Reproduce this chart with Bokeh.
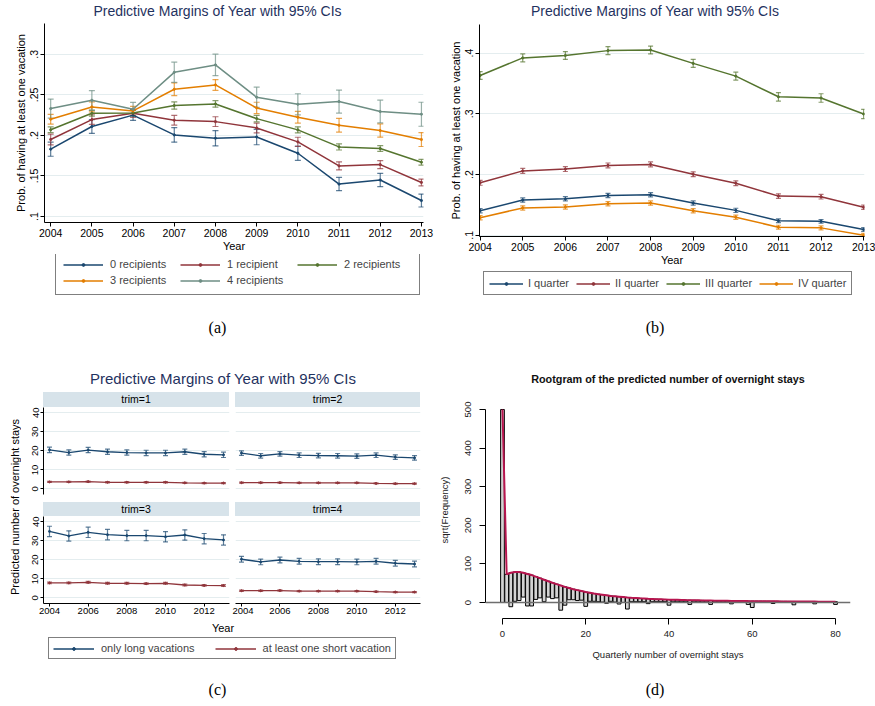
from bokeh.plotting import figure
from bokeh.models import (Range1d, FixedTicker, Legend, LegendItem, Whisker, TeeHead,
                          ColumnDataSource, Div, Spacer, Span)
from bokeh.layouts import column, row
from bokeh.embed import file_html
from bokeh.resources import INLINE

# ---------------- data ----------------
years = [2004, 2005, 2006, 2007, 2008, 2009, 2010, 2011, 2012, 2013]

# (a) probability by number of recipients
a_labels = ["0 recipients", "1 recipient", "2 recipients", "3 recipients", "4 recipients"]
a_rec0 = [.183, .211, .225, .2006, .1965, .198, .178, .140, .145, .1197]
a_rec0_ci = [.0087, .0085, .0065, .009, .0095, .0095, .0087, .0082, .0082, .008]
a_rec1 = [.195, .2195, .2273, .2187, .217, .2092, .192, .1624, .164, .142]
a_rec1_ci = [.0066, .006, .005, .006, .006, .006, .0057, .005, .005, .0042]
a_rec2 = [.207, .2273, .2277, .2368, .2388, .2207, .2068, .1858, .1838, .1669]
a_rec2_ci = [.0035, .0035, .0035, .0045, .004, .004, .0038, .0038, .0035, .0035]
a_rec3 = [.22, .2351, .2302, .2569, .2622, .2339, .2224, .2125, .206, .1949]
a_rec3_ci = [.006, .0062, .0055, .0078, .0066, .007, .0072, .0084, .0082, .0086]
a_rec4 = [.2331, .2433, .2322, .2778, .2869, .247, .2384, .2417, .2294, .2261]
a_rec4_ci = [.0117, .012, .0085, .0125, .0133, .0125, .013, .0142, .014, .0148]
a_yticks = [0.1, 0.15, 0.2, 0.25, 0.3]
a_yticklabels = [".1", ".15", ".2", ".25", ".3"]

# (b) probability by quarter
b_labels = ["I quarter", "II quarter", "III quarter", "IV quarter"]
b_q1 = [.1405, .158, .160, .1656, .1667, .153, .141, .124, .123, .1095]
b_q1_ci = [.0035, .0035, .0035, .0035, .0035, .0035, .0035, .003, .003, .003]
b_q2 = [.1864, .206, .209, .215, .2167, .2005, .1857, .1645, .1635, .146]
b_q2_ci = [.004, .004, .004, .004, .004, .004, .004, .0038, .0038, .0035]
b_q3 = [.363, .392, .396, .404, .405, .383, .362, .328, .326, .2997]
b_q3_ci = [.0065, .0065, .0065, .0065, .0065, .0065, .0065, .007, .007, .0075]
b_q4 = [.129, .145, .1466, .152, .153, .1405, .1297, .1133, .1122, .100]
b_q4_ci = [.0035, .0035, .0035, .0035, .0035, .0035, .0035, .0032, .0032, .003]
b_yticks = [0.1, 0.2, 0.3, 0.4]
b_yticklabels = [".1", ".2", ".3", ".4"]

# (c) predicted overnight stays by quarter (trim)
c_labels = ["only long vacations", "at least one short vacation"]
c_long_trim1 = [20.5, 19.1, 20.4, 19.5, 19.1, 18.9, 18.9, 19.5, 18.2, 17.9]
c_long_trim2 = [18.8, 17.4, 18.4, 17.7, 17.5, 17.4, 17.2, 17.7, 16.7, 16.3]
c_long_trim3 = [34.9, 32.5, 34.4, 33.2, 32.7, 32.7, 32.1, 33.0, 31.1, 30.4]
c_long_trim4 = [20.3, 18.9, 19.9, 19.2, 19.0, 19.0, 18.9, 19.2, 18.2, 17.8]
c_long_ci = {1: 1.4, 2: 1.2, 3: 2.7, 4: 1.5}
c_short_trim1 = [3.7, 3.7, 3.85, 3.5, 3.5, 3.5, 3.5, 3.2, 3.1, 3.1]
c_short_trim2 = [3.3, 3.3, 3.3, 3.2, 3.2, 3.2, 3.2, 2.9, 2.8, 2.8]
c_short_trim3 = [7.9, 7.9, 8.2, 7.7, 7.7, 7.5, 7.7, 6.8, 6.6, 6.5]
c_short_trim4 = [3.8, 3.8, 3.9, 3.6, 3.6, 3.6, 3.6, 3.3, 3.1, 3.1]
c_short_ci = {1: 0.3, 2: 0.3, 3: 0.45, 4: 0.3}
c_yticks = [0, 10, 20, 30, 40]
c_xticks = [2004, 2006, 2008, 2010, 2012]

# (d) hanging rootogram
d_counts = list(range(0, 81))
d_sqrt_expected = [500, 73, 77, 79, 79, 77, 74, 71, 67, 63, 59, 55, 51, 47.5, 44, 40.5, 37.5,
                   34.5, 32, 29.5, 27, 25, 23, 21.5, 20, 18.5, 17, 16, 15, 14, 13, 12.2, 11.5,
                   10.8, 10.2, 9.6, 9.1, 8.6, 8.2, 7.8, 7.4, 7.1, 6.8, 6.5, 6.2, 6.0, 5.7, 5.5,
                   5.3, 5.1, 4.9, 4.7, 4.6, 4.4, 4.3, 4.1, 4.0, 3.9, 3.8, 3.6, 3.5, 3.4, 3.3,
                   3.2, 3.1, 3.0, 2.9, 2.8, 2.8, 2.7, 2.6, 2.5, 2.5, 2.4, 2.3, 2.3, 2.2, 2.1,
                   2.1, 2.0, 2.0]
d_sqrt_observed = [500, 73, 88, 76, 74, 63, 83, 80, 59, 51, 57, 41, 41, 35.5, 64, 47.5, 30.5,
                   27.5, 27, 23.5, 37, 22, 20, 19.5, 19, 20.5, 14, 15, 19, 14, 30, 10.2, 9.5,
                   8.8, 8.2, 12.6, 7.1, 6.6, 6.2, 5.8, 14.4, 5.3, 5.0, 4.7, 4.4, 11, 4.0, 3.8,
                   3.6, 3.4, 9.9, 3.1, 3.0, 2.9, 2.8, 7.6, 2.6, 2.5, 2.4, 8.6, 16.5, 2.0, 1.9,
                   1.8, 1.7, 5.6, 1.6, 1.5, 1.5, 1.4, 8.6, 1.3, 1.3, 1.2, 1.2, 5.8, 1.1, 1.0,
                   1.0, 0.9, 7.0]
d_xticks = [0, 20, 40, 60, 80]
d_yticks = [0, 100, 200, 300, 400, 500]

# ---------------- style ----------------
SANS = "Liberation Sans"
SERIF = "Liberation Serif"
NAVY = "#1a476f"
MAROON = "#90353b"
FGREEN = "#55752f"
DKORANGE = "#e37e00"
TEAL = "#6e8e84"
TITLE_C = "#1f3260"
GRID_C = "#e4edef"


def style_axis(ax, size, tick_out=4, standoff=2, label_size="11px", label_standoff=2):
    ax.axis_line_color = "black"
    ax.axis_line_width = 1
    ax.major_tick_line_color = "black"
    ax.minor_tick_line_color = None
    ax.major_tick_in = 0
    ax.major_tick_out = tick_out
    ax.major_label_standoff = standoff
    ax.major_label_text_font = SANS
    ax.major_label_text_font_size = size
    ax.major_label_text_color = "black"
    ax.axis_label_text_font = SANS
    ax.axis_label_text_font_style = "normal"
    ax.axis_label_text_font_size = label_size
    ax.axis_label_text_color = "black"
    ax.axis_label_standoff = label_standoff


def stata_fig(width, height, xr, yr, mb, xaxis=True, yaxis=True):
    kw = dict(width=width, height=height, x_range=Range1d(*xr), y_range=Range1d(*yr),
              output_backend="svg", toolbar_location=None,
              min_border_left=mb[0], min_border_right=mb[1],
              min_border_top=mb[2], min_border_bottom=mb[3])
    if not xaxis:
        kw["x_axis_location"] = None
    if not yaxis:
        kw["y_axis_location"] = None
    p = figure(**kw)
    p.outline_line_color = None
    p.xgrid.visible = False
    p.ygrid.grid_line_color = GRID_C
    p.ygrid.grid_line_width = 1
    return p


def add_ci_series(p, x, mean, half, color, lw=1.5, cap=6, msize=2.2):
    if not isinstance(half, list):
        half = [half] * len(mean)
    src = ColumnDataSource(dict(x=list(x), y=list(mean),
                                lower=[m - h for m, h in zip(mean, half)],
                                upper=[m + h for m, h in zip(mean, half)]))
    head_kw = dict(size=cap, line_color=color, line_alpha=0.7, line_width=1.2)
    w = Whisker(source=src, base="x", lower="lower", upper="upper",
                line_color=color, line_alpha=0.7, line_width=1.2,
                lower_head=TeeHead(**head_kw), upper_head=TeeHead(**head_kw))
    p.add_layout(w)
    p.line("x", "y", source=src, line_color=color, line_width=lw)
    p.scatter("x", "y", source=src, size=msize, color=color)
    return src


def text_div(text, width, height, size, color="black", family=SANS, bold=False, extra=None):
    st = {"text-align": "center", "font-family": family, "font-size": size,
          "line-height": f"{height}px", "color": color,
          "font-weight": "bold" if bold else "normal", "white-space": "nowrap"}
    if extra:
        st.update(extra)
    return Div(text=text, width=width, height=height, margin=0, styles=st)


def caption(text, width, height, line_h):
    return Div(text=text, width=width, height=height, margin=0,
               styles={"text-align": "center", "font-family": SERIF,
                       "font-size": "16px", "line-height": f"{line_h}px", "color": "black"})


def spacer(w, h):
    return Spacer(width=w, height=h, margin=0)


def legend_fig(width, height, borders, entries, loc, lw, msize, **legend_kw):
    """Separate canvas holding an outside legend; its line/marker renderers reuse the
    series sources but lie outside this canvas's (0, 1) ranges, so only the key shows."""
    p = figure(width=width, height=height, x_range=Range1d(0, 1), y_range=Range1d(0, 1),
               output_backend="svg", toolbar_location=None,
               x_axis_location=None, y_axis_location=None,
               min_border_left=borders[0], min_border_right=borders[1],
               min_border_top=0, min_border_bottom=0)
    p.outline_line_color = None
    p.grid.visible = False
    items = []
    for lab, col, src in entries:
        ln = p.line("x", "y", source=src, line_color=col, line_width=lw)
        pt = p.scatter("x", "y", source=src, size=msize, color=col)
        items.append(LegendItem(label=lab, renderers=[ln, pt]))
    leg = Legend(items=items, location=loc, border_line_color="black", border_line_width=1,
                 label_text_font=SANS, label_text_font_size="11px", margin=0, **legend_kw)
    p.add_layout(leg)
    return p


# ---------------- panel (a) ----------------
pa = stata_fig(435, 232, (2003.85, 2013.05), (0.0926, 0.338), (44, 12, 1, 31))
pa.xaxis.ticker = FixedTicker(ticks=years)
pa.yaxis.ticker = FixedTicker(ticks=a_yticks)
pa.yaxis.major_label_overrides = {t: l for t, l in zip(a_yticks, a_yticklabels)}
pa.yaxis.major_label_orientation = "vertical"
pa.xaxis.axis_label = "Year"
pa.yaxis.axis_label = "Prob. of having at least one vacation"
style_axis(pa.xaxis[0], "10.5px", label_standoff=0)
style_axis(pa.yaxis[0], "10.5px", label_standoff=1)
a_series = [(a_rec0, a_rec0_ci, NAVY), (a_rec1, a_rec1_ci, MAROON), (a_rec2, a_rec2_ci, FGREEN),
            (a_rec3, a_rec3_ci, DKORANGE), (a_rec4, a_rec4_ci, TEAL)]
a_srcs = [add_ci_series(pa, years, m, c, col) for m, c, col in a_series]
leg_a = legend_fig(435, 46, (44, 12),
                   [(l, s[2], src) for l, s, src in zip(a_labels, a_series, a_srcs)],
                   (11, 5), 1.5, 2.2, orientation="horizontal", ncols=3,
                   glyph_width=40, glyph_height=7, label_height=14, label_width=68,
                   label_standoff=7, spacing=2, padding=7)
a_title = text_div("Predictive Margins of Year with 95% CIs", 435, 22, "14px", TITLE_C)

# ---------------- panel (b) ----------------
pb = stata_fig(440, 246, (2003.985, 2013.02), (0.098, 0.447), (44, 11, 2, 31))
pb.xaxis.ticker = FixedTicker(ticks=years)
pb.yaxis.ticker = FixedTicker(ticks=b_yticks)
pb.yaxis.major_label_overrides = {t: l for t, l in zip(b_yticks, b_yticklabels)}
pb.yaxis.major_label_orientation = "vertical"
pb.xaxis.axis_label = "Year"
pb.yaxis.axis_label = "Prob. of having at least one vacation"
style_axis(pb.xaxis[0], "10.5px", label_standoff=0)
style_axis(pb.yaxis[0], "10.5px", label_standoff=1)
b_series = [(b_q1, b_q1_ci, NAVY), (b_q2, b_q2_ci, MAROON), (b_q3, b_q3_ci, FGREEN),
            (b_q4, b_q4_ci, DKORANGE)]
b_srcs = [add_ci_series(pb, years, m, c, col, cap=5) for m, c, col in b_series]
leg_b = legend_fig(440, 32, (44, 11),
                   [(l, s[2], src) for l, s, src in zip(b_labels, b_series, b_srcs)],
                   (4, 5), 1.5, 2.2, orientation="horizontal",
                   glyph_width=34, glyph_height=7, label_height=11,
                   label_standoff=5, spacing=7, padding=5)
b_title = text_div("Predictive Margins of Year with 95% CIs", 440, 22, "14px", TITLE_C)

# ---------------- panel (c) ----------------
c_long = {1: c_long_trim1, 2: c_long_trim2, 3: c_long_trim3, 4: c_long_trim4}
c_short = {1: c_short_trim1, 2: c_short_trim2, 3: c_short_trim3, 4: c_short_trim4}
c_srcs = {}


def facet(trim, left, bottom):
    w = 206 if left else 203
    h = 105 if bottom else 95
    mb = (17 if left else 3, 3 if left else 15, 0, 18 if bottom else 8)
    p = stata_fig(w, h, (2003.69, 2013.31), (-2.9, 42.7), mb, xaxis=bottom, yaxis=left)
    p.ygrid.ticker = FixedTicker(ticks=c_yticks)
    if left:
        p.yaxis.ticker = FixedTicker(ticks=c_yticks)
        p.yaxis.major_label_orientation = "vertical"
        style_axis(p.yaxis[0], "9.5px", tick_out=3, standoff=2)
    if bottom:
        p.xaxis.ticker = FixedTicker(ticks=c_xticks)
        style_axis(p.xaxis[0], "9.5px", tick_out=3, standoff=1)
    s1 = add_ci_series(p, years, c_long[trim], c_long_ci[trim], NAVY, lw=1.3, cap=5, msize=2)
    s2 = add_ci_series(p, years, c_short[trim], c_short_ci[trim], MAROON, lw=1.3, cap=5, msize=2)
    c_srcs[trim] = (s1, s2)
    return p


def header(text, width, height):
    return text_div(text, width, height, "10.5px", extra={"background-color": "#d7e3ea"})


fc1 = facet(1, True, False)
fc2 = facet(2, False, False)
fc3 = facet(3, True, True)
fc4 = facet(4, False, True)

c_title = text_div("Predictive Margins of Year with 95% CIs", 424, 26, "15px", TITLE_C)
c_ylab = text_div("Predicted number of overnight stays", 26, 229, "11px",
                  extra={"writing-mode": "vertical-rl", "transform": "rotate(180deg)",
                         "line-height": "30px"})
c_year = text_div("Year", 424, 15, "11px")

leg_c = legend_fig(435, 26, (0, 0),
                   [(c_labels[0], NAVY, c_srcs[1][0]), (c_labels[1], MAROON, c_srcs[1][1])],
                   (48, 3), 1.3, 2, orientation="horizontal",
                   glyph_width=41, glyph_height=7, label_height=12,
                   label_standoff=7, spacing=20, padding=4)

col_c = column(
    spacer(435, 21),
    row(spacer(11, 26), c_title),
    row(c_ylab,
        column(row(spacer(17, 15), header("trim=1", 186, 15),
                   spacer(6, 15), header("trim=2", 185, 15)),
               row(fc1, fc2),
               row(spacer(17, 14), header("trim=3", 186, 14),
                   spacer(6, 14), header("trim=4", 185, 14)),
               row(fc3, fc4))),
    row(spacer(11, 15), c_year),
    leg_c,
    spacer(435, 16),
    caption("(c)", 435, 28, 24),
)

# ---------------- panel (d) ----------------
pdd = figure(width=440, height=277, x_range=Range1d(-4.08, 83.6), y_range=Range1d(-41.5, 520.7),
             output_backend="svg", toolbar_location=None,
             min_border_left=50, min_border_right=25, min_border_top=10, min_border_bottom=50)
pdd.outline_line_color = None
pdd.grid.visible = False
pdd.xaxis.ticker = FixedTicker(ticks=d_xticks)
pdd.xaxis.bounds = (0, 80)
pdd.yaxis.ticker = FixedTicker(ticks=d_yticks)
pdd.yaxis.bounds = (0, 500)
pdd.yaxis.major_label_orientation = "vertical"
pdd.xaxis.axis_label = "Quarterly number of overnight stays"
pdd.yaxis.axis_label = "sqrt(Frequency)"
style_axis(pdd.xaxis[0], "9.5px", tick_out=6, standoff=6, label_size="9.5px", label_standoff=9)
style_axis(pdd.yaxis[0], "9.5px", tick_out=6, standoff=8, label_size="9.5px", label_standoff=13)
for ax in (pdd.xaxis[0], pdd.yaxis[0]):
    ax.major_label_text_color = "#222222"
    ax.axis_label_text_color = "#222222"

d_src = ColumnDataSource(dict(
    x=d_counts, top=d_sqrt_expected,
    bottom=[e - o for e, o in zip(d_sqrt_expected, d_sqrt_observed)],
    left=[c - 0.45 for c in d_counts], right=[c + 0.45 for c in d_counts]))
pdd.quad(left="left", right="right", top="top", bottom="bottom", source=d_src,
         fill_color="#d3d3d3", line_color="black", line_width=1)
pdd.add_layout(Span(location=0, dimension="width", line_color="#6e6e6e", line_width=1.6))
pdd.line("x", "top", source=d_src, line_color="#b8154f", line_width=2)

d_title = text_div("Rootgram of the predicted number of overnight stays", 414, 24, "10.8px",
                   "#111111", bold=True)

col_d = column(spacer(440, 22), row(spacer(26, 24), d_title), pdd,
               spacer(440, 12), caption("(d)", 440, 26, 20))

col_a = column(a_title, pa, leg_a, spacer(435, 17), caption("(a)", 435, 28, 22))
col_b = column(b_title, pb, leg_b, spacer(440, 17), caption("(b)", 440, 28, 22))

layout = column(row(col_a, col_b), row(col_c, col_d))

open("out.html", "w").write(file_html(layout, INLINE))
